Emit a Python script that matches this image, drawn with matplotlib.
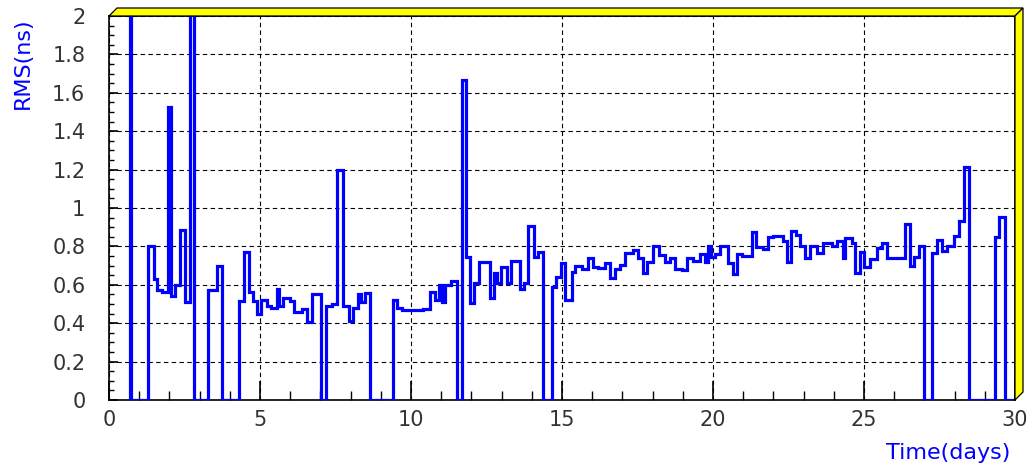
import matplotlib
matplotlib.use("Agg")
import matplotlib.pyplot as plt
from matplotlib.patches import Polygon
from matplotlib.ticker import MultipleLocator, FuncFormatter
import numpy as np

# Bin edges (days) and RMS values (ns)
edges = [0.695, 0.728, 1.301, 1.490, 1.599, 1.765, 1.954, 2.053, 2.185, 2.351,
         2.517, 2.682, 2.815, 3.268, 3.566, 3.732, 4.305, 4.480, 4.636, 4.778,
         4.911, 5.033, 5.222, 5.364, 5.563, 5.629, 5.772, 5.993, 6.126, 6.381,
         6.546, 6.712, 7.020, 7.175, 7.374, 7.540, 7.758, 7.957, 8.089, 8.255,
         8.344, 8.477, 8.642, 9.414, 9.546, 9.712, 10.407, 10.629, 10.795, 10.927,
         11.026, 11.126, 11.325, 11.513, 11.679, 11.821, 11.954, 12.096, 12.252, 12.616,
         12.758, 12.848, 12.980, 13.169, 13.301, 13.609, 13.752, 13.884, 14.073, 14.215,
         14.381, 14.659, 14.801, 14.957, 15.099, 15.321, 15.430, 15.652, 15.871, 16.036,
         16.202, 16.424, 16.589, 16.755, 16.921, 17.086, 17.361, 17.526, 17.672, 17.825,
         18.003, 18.222, 18.411, 18.576, 18.742, 18.964, 19.149, 19.348, 19.570, 19.735,
         19.844, 19.934, 20.066, 20.232, 20.507, 20.672, 20.785, 20.950, 21.281, 21.424,
         21.666, 21.831, 21.997, 22.328, 22.450, 22.599, 22.760, 22.881, 23.046, 23.212,
         23.434, 23.652, 23.930, 24.096, 24.295, 24.371, 24.593, 24.702, 24.868, 25.000,
         25.199, 25.440, 25.586, 25.752, 26.358, 26.523, 26.656, 26.821, 26.987, 27.242,
         27.407, 27.573, 27.738, 27.980, 28.156, 28.311, 28.477, 29.338, 29.480, 29.669,
         30.0]

rms = [2.4, 0.0, 0.80, 0.63, 0.573, 0.56, 1.528, 0.543, 0.60, 0.885,
       0.512, 2.4, 0.0, 0.573, 0.70, 0.0, 0.516, 0.773, 0.56, 0.518,
       0.448, 0.52, 0.49, 0.48, 0.58, 0.487, 0.533, 0.516, 0.46, 0.475,
       0.404, 0.55, 0.0, 0.49, 0.50, 1.198, 0.49, 0.413, 0.48, 0.55,
       0.51, 0.556, 0.0, 0.52, 0.48, 0.469, 0.475, 0.564, 0.52, 0.60,
       0.51, 0.60, 0.62, 0.0, 1.667, 0.743, 0.503, 0.608, 0.72, 0.53,
       0.66, 0.608, 0.694, 0.608, 0.724, 0.58, 0.61, 0.906, 0.747, 0.773,
       0.0, 0.59, 0.642, 0.712, 0.52, 0.668, 0.698, 0.684, 0.738, 0.694,
       0.69, 0.712, 0.634, 0.684, 0.705, 0.764, 0.78, 0.738, 0.663, 0.72,
       0.80, 0.755, 0.72, 0.738, 0.681, 0.675, 0.738, 0.726, 0.76, 0.718,
       0.80, 0.745, 0.76, 0.80, 0.712, 0.656, 0.76, 0.75, 0.876, 0.797,
       0.785, 0.847, 0.855, 0.83, 0.72, 0.88, 0.86, 0.80, 0.738, 0.80,
       0.764, 0.816, 0.80, 0.83, 0.74, 0.842, 0.816, 0.663, 0.77, 0.694,
       0.733, 0.79, 0.816, 0.738, 0.917, 0.698, 0.747, 0.80, 0.0, 0.764,
       0.835, 0.777, 0.80, 0.852, 0.934, 1.215, 0.0, 0.849, 0.955, 0.0]

x_label = "Time(days)"
y_label = "RMS(ns)"

W, H = 1034, 470
fig = plt.figure(figsize=(W / 100, H / 100), dpi=100)
fig.patch.set_facecolor("white")

L, R, T, B = 109, 1015, 16, 400
ax = fig.add_axes([L / W, 1 - B / H, (R - L) / W, (B - T) / H])
ax.set_xlim(0, 30)
ax.set_ylim(0, 2)

ax.stairs(rms, edges, baseline=0, color="#0000ff", lw=2.3, zorder=3)

ax.xaxis.set_major_locator(MultipleLocator(5))
ax.xaxis.set_minor_locator(MultipleLocator(1))
ax.yaxis.set_major_locator(MultipleLocator(0.2))
ax.yaxis.set_minor_locator(MultipleLocator(0.05))

def yfmt(v, pos):
    s = f"{v:.1f}"
    if s.endswith(".0"):
        s = s[:-2]
    return s

ax.yaxis.set_major_formatter(FuncFormatter(yfmt))

font = "DejaVu Sans"
ax.tick_params(axis="x", which="major", direction="in", length=14, width=1.2,
               pad=7, labelsize=15, colors="black")
ax.tick_params(axis="x", which="minor", direction="in", length=6.5, width=1.0)
ax.tick_params(axis="y", which="major", direction="in", length=6.5, width=1.2,
               pad=17, labelsize=15, colors="black")
ax.tick_params(axis="y", which="minor", direction="in", length=3.3, width=1.0)
for lab in ax.get_xticklabels() + ax.get_yticklabels():
    lab.set_fontfamily(font)
    lab.set_color("#333333")

ax.grid(True, which="major", color="black", linestyle=(0, (4, 3)), lw=0.8, zorder=1)
for sp in ax.spines.values():
    sp.set_color("black")
    sp.set_linewidth(1.2)

# yellow 3D frame (top and right bands)
def px(xp, yp):
    return (xp / W, 1 - yp / H)

d = 8
top = Polygon([px(L, T), px(L + d, T - d), px(R + d, T - d), px(R, T)],
              closed=True, transform=fig.transFigure, facecolor="#ffff00",
              edgecolor="black", lw=0.9, zorder=5)
right = Polygon([px(R, T), px(R + d, T - d), px(R + d, B - d), px(R, B)],
                closed=True, transform=fig.transFigure, facecolor="#ffff00",
                edgecolor="black", lw=0.9, zorder=5)
fig.patches.extend([top, right])

fig.text(1010 / W, 1 - 453 / H, x_label, ha="right", va="center",
         fontsize=16, color="#0000ff", family=font)
fig.text(23 / W, 1 - 17 / H, y_label, ha="center", va="top", rotation=90,
         fontsize=16, color="#0000ff", family=font)

fig.savefig("out.png", dpi=100)
